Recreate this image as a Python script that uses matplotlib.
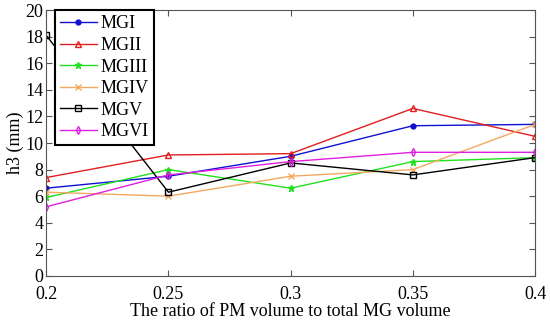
import matplotlib
matplotlib.use("Agg")
import matplotlib.pyplot as plt

plt.rcParams['font.family'] = ['Liberation Serif', 'DejaVu Serif']

# Data
x = [0.2, 0.25, 0.3, 0.35, 0.4]
mg1 = [6.6, 7.5, 9.0, 11.3, 11.4]
mg2 = [7.4, 9.1, 9.2, 12.6, 10.5]
mg3 = [5.9, 8.0, 6.6, 8.6, 8.9]
mg4 = [6.3, 6.0, 7.5, 8.0, 11.4]
mg5 = [18.1, 6.3, 8.5, 7.6, 8.9]
mg6 = [5.2, 7.6, 8.6, 9.3, 9.3]

fig = plt.figure(figsize=(5.5, 3.25), dpi=100)
ax = fig.add_axes([0.084, 0.151, 0.889, 0.818])

ax.plot(x, mg1, color="#1010d0", marker="o", ms=3.5, lw=1, label="MGI")
ax.plot(x, mg2, color="#e02020", marker="^", ms=4, mfc="none", lw=1, label="MGII")
ax.plot(x, mg3, color="#20e020", marker="*", ms=5, lw=1, label="MGIII")
ax.plot(x, mg4, color="#f5a860", marker="x", ms=4, lw=1, label="MGIV")
ax.plot(x, mg5, color="black", marker="s", ms=4, mfc="none", lw=1, label="MGV")
ax.plot(x, mg6, color="#e020e0", marker="d", ms=4, mfc="none", lw=1, label="MGVI")

ax.set_xlim(0.2, 0.4)
ax.set_ylim(0, 20)
ax.set_xticks(x)
ax.set_xticklabels(["0.2", "0.25", "0.3", "0.35", "0.4"])
ax.set_yticks(range(0, 21, 2))
ax.tick_params(direction="in", top=True, right=True, labelsize=13, length=4, color="#555555")
ax.tick_params(axis="x", pad=7)
ax.tick_params(axis="y", pad=2)
for s in ax.spines.values():
    s.set_color("#555555")

ax.set_xlabel("The ratio of PM volume to total MG volume", fontsize=13, labelpad=0)
ax.set_ylabel("h3 (mm)", fontsize=13, labelpad=1)

leg = ax.legend(loc="upper left", bbox_to_anchor=(0.018, 1.0), fontsize=13, fancybox=False,
                framealpha=1, edgecolor="black", handlelength=2.0, handletextpad=0.2,
                labelspacing=0.25, borderpad=0.3, borderaxespad=0)
leg.get_frame().set_linewidth(1.5)

fig.savefig("out.png", dpi=100)
